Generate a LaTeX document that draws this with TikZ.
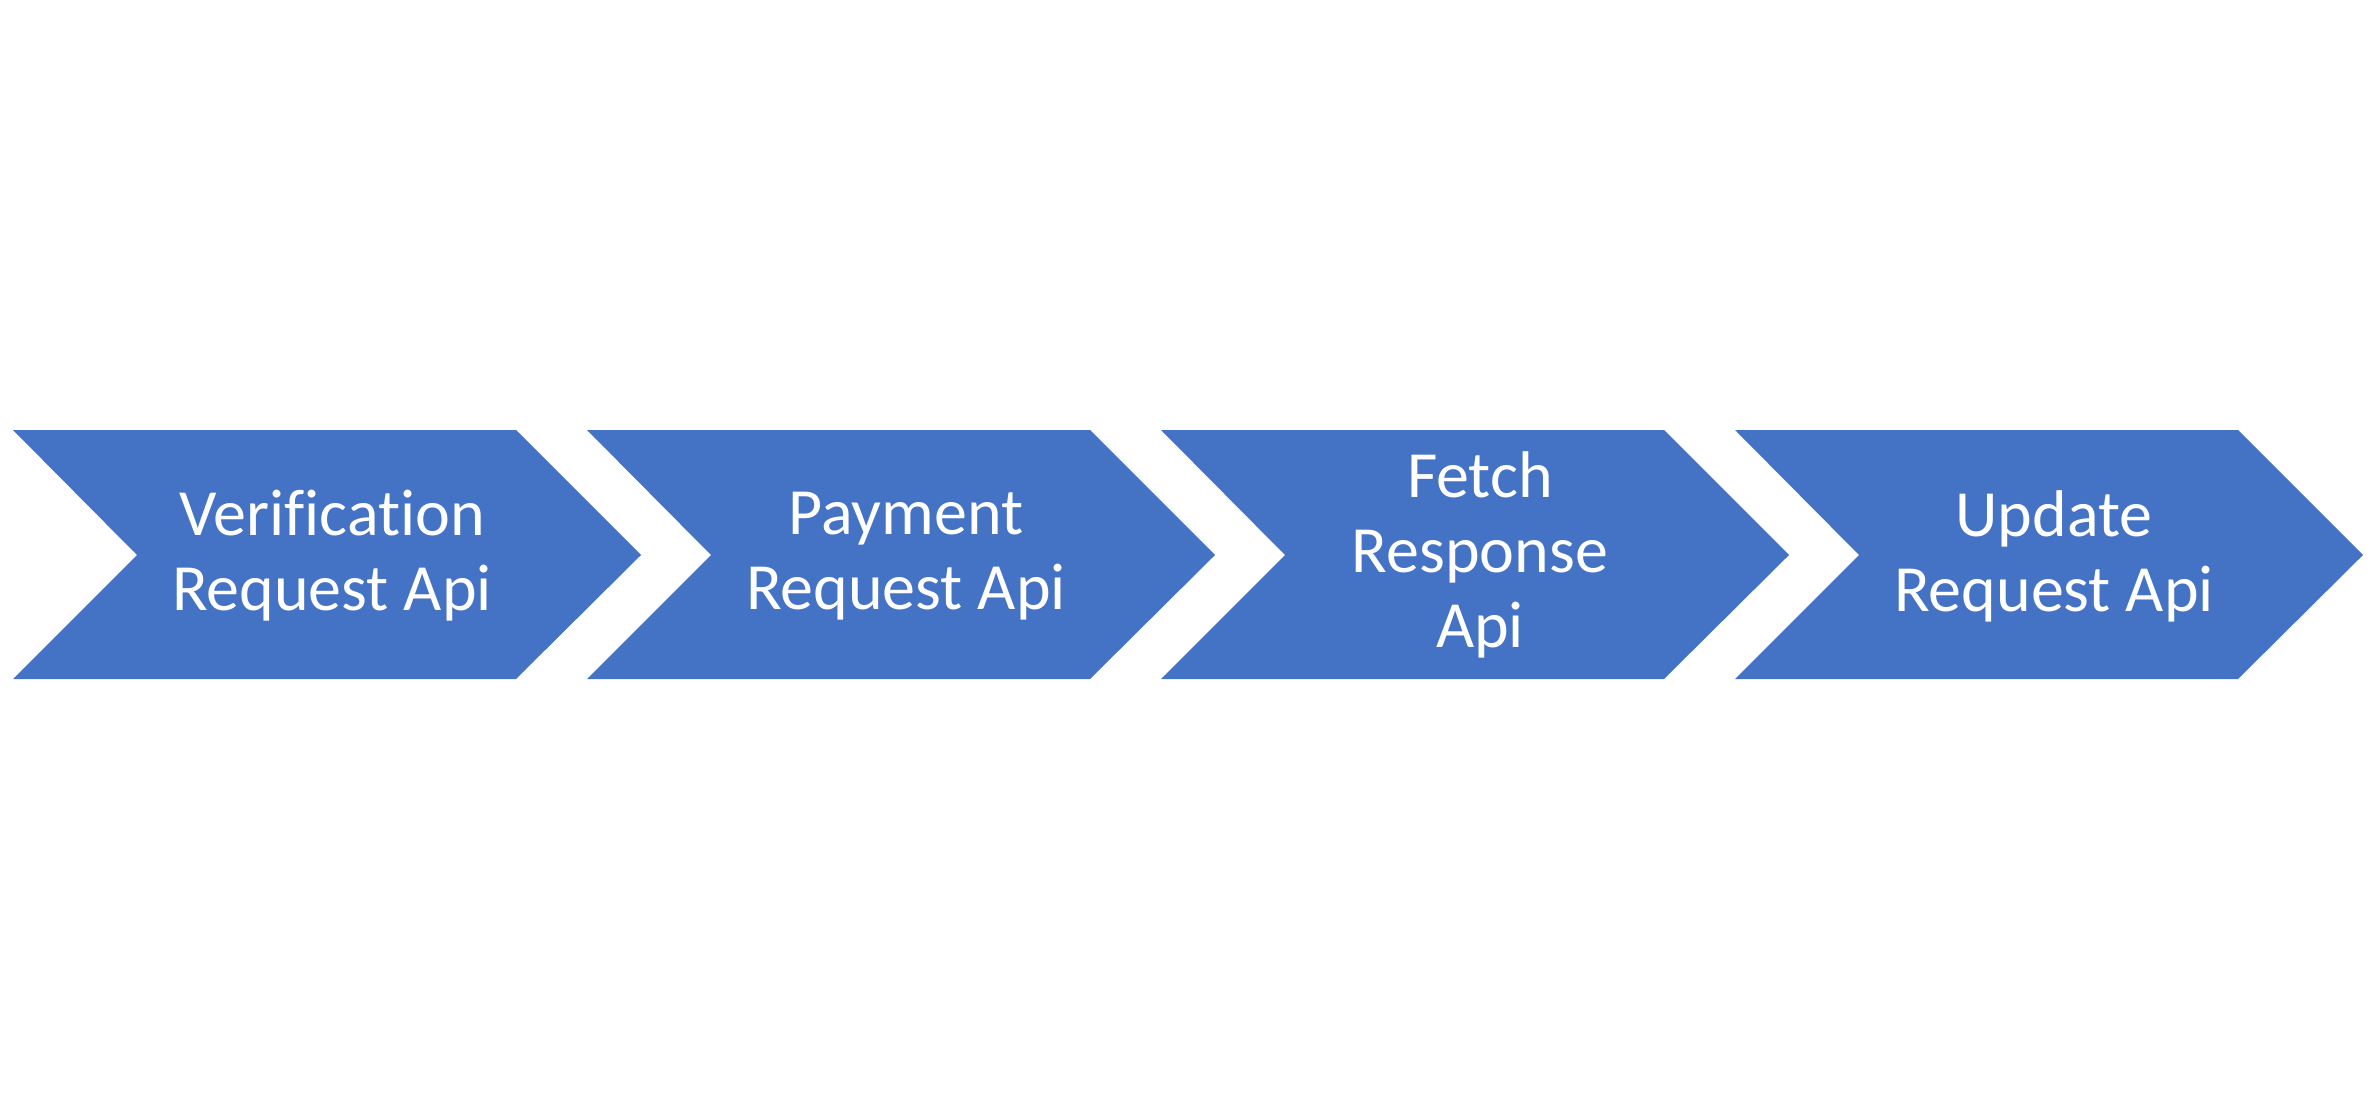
\documentclass[tikz,border=0pt]{standalone}
\usepackage{fontspec}
\setmainfont{Carlito}[Ligatures=NoCommon]
\definecolor{chev}{HTML}{4472C4}
\begin{document}
\begin{tikzpicture}[x=1pt,y=-1pt,
  chevfill/.style={fill=chev},
  lbl/.style={text=white, align=center, inner sep=0pt, font=\fontsize{66}{75}\selectfont}]
\useasboundingbox (0,0) rectangle (2371,1108);
\foreach \x in {13,587,1161,1735}{
  \fill[chevfill] (\x,430) -- ++(503,0) -- ++(125,125) -- ++(-125,124) -- ++(-503,0) -- ++(124,-124) -- cycle;
}
\node[lbl] (v) at (332,556) {Verification\\Request Api};
\node[lbl] (p) at (906,556) {Payment\\Request Api};
\node[lbl] (f) at (1480,555) {Fetch\\Response\\Api};
\node[lbl] (u) at (2054,556) {Update\\Request Api};
\end{tikzpicture}
\end{document}
